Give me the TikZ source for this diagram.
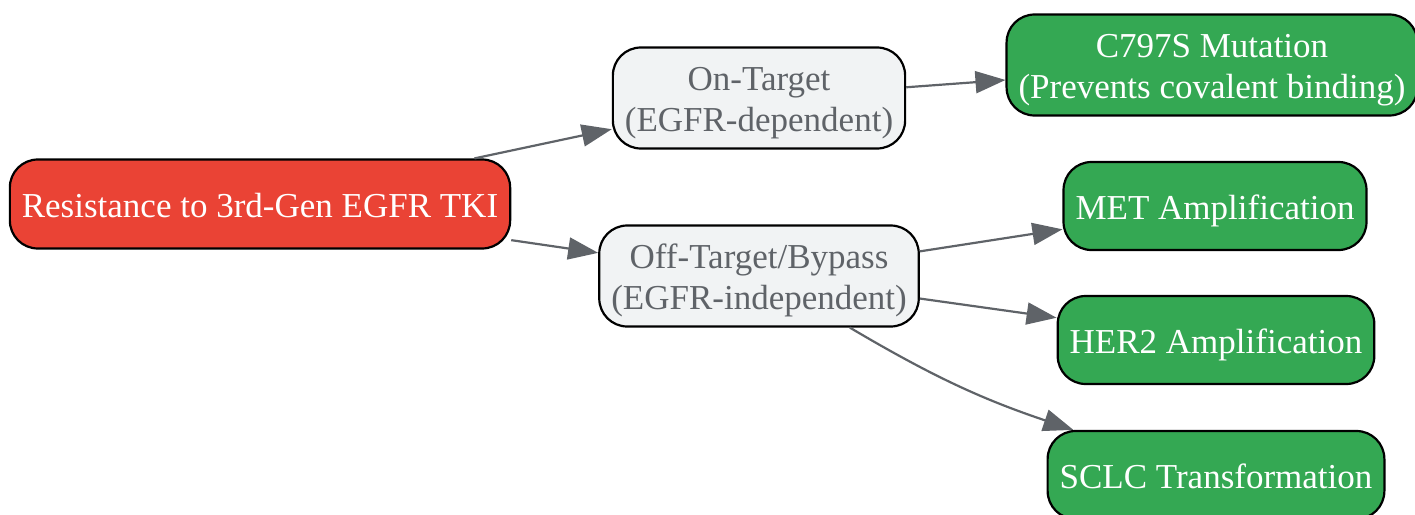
\documentclass[tikz,border=0pt]{standalone}
\usepackage{fontspec}
\setmainfont{Liberation Serif}
\usepackage{xcolor}
\usepackage{tikz}
\usetikzlibrary{arrows.meta, positioning}

\definecolor{causered}{HTML}{EA4335}
\definecolor{mechgreen}{HTML}{34A853}
\definecolor{branchgrey}{HTML}{F1F3F4}
\definecolor{labelgrey}{HTML}{5F6368}

\begin{document}
\begin{tikzpicture}[
    box/.style={rectangle, rounded corners=28pt, draw=black, line width=2.2pt,
        align=center, inner xsep=12pt, inner ysep=5pt,
        font=\fontsize{35}{41}\selectfont, text height=34pt, text depth=8pt},
    twolines/.style={text height=75pt, text depth=8pt, minimum height=101pt},
    cause/.style={box, fill=causered, text=white, minimum height=89pt},
    branch/.style={box, twolines, fill=branchgrey, text=labelgrey},
    mech/.style={box, fill=mechgreen, text=white, minimum height=88pt},
    link/.style={color=labelgrey, line width=2.2pt, -{Triangle[length=30pt, width=22pt]}},
    on grid]
    \useasboundingbox (0pt,0pt) rectangle (1415pt,-514pt);
    % root cause
    \node[cause] (resist) at (260pt,-204pt) {Resistance to 3rd-Gen EGFR TKI};
    % two branches
    \node[branch] (ontarget) [above right = 106pt and 499pt of resist] {On-Target\\(EGFR-dependent)};
    \node[branch] (offtarget) [below right = 72pt and 499pt of resist] {Off-Target/Bypass\\(EGFR-independent)};
    % mechanisms
    \node[mech, twolines] (c797s) [above right = 33pt and 453pt of ontarget] {C797S Mutation\\(Prevents covalent binding)};
    \node[mech] (met) [above right = 70pt and 456pt of offtarget] {MET Amplification};
    \node[mech] (her2) [below right = 64pt and 457pt of offtarget] {HER2 Amplification};
    \node[mech] (sclc) [below right = 199pt and 457pt of offtarget] {SCLC Transformation};

    \draw[link] (resist) -- (ontarget);
    \draw[link] (resist) -- (offtarget);
    \draw[link] (ontarget) -- (c797s);
    \draw[link] (offtarget) -- (met);
    \draw[link] (offtarget) -- (her2);
    \draw[link] (offtarget) to [bend right=6] (sclc);
\end{tikzpicture}
\end{document}
